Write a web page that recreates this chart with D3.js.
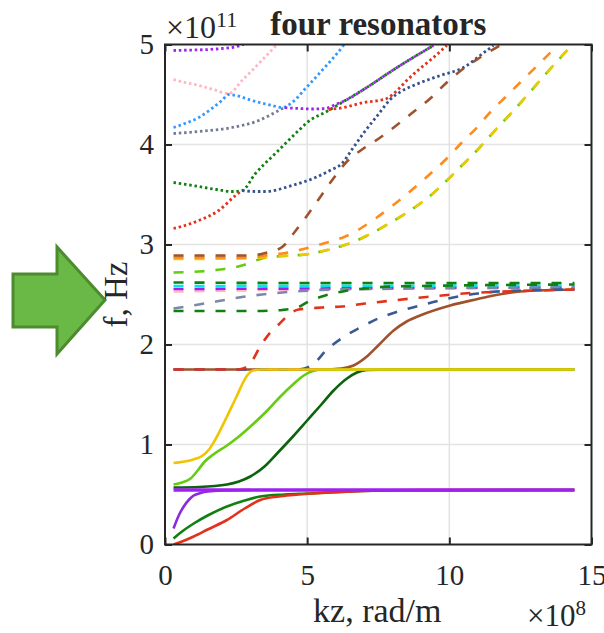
<!DOCTYPE html>
<html><head><meta charset="utf-8">
<script src="https://cdn.jsdelivr.net/npm/d3@7"></script>
<style>body{margin:0;background:#fff}svg{display:block}text{font-family:"Liberation Serif","Times New Roman",serif;fill:#262626}</style>
</head><body>
<svg id="c" width="604" height="633"></svg>
<script>
// ---------- data (x in 1e8 rad/m, y in 1e11 Hz) ----------
const xTicks = [0, 5, 10, 15];
const yTicks = [0, 1, 2, 3, 4, 5];
const titleText = "four resonators";
const xLabel = "kz, rad/m";
const yLabel = "f, Hz";

// solid curves
const purpleFlat = [[0.3,0.545],[14.4,0.545]];
const purpleRise = [[0.3,0.16],[0.5,0.3],[0.66,0.38],[0.85,0.45],[1.01,0.49],[1.25,0.515],[1.5,0.53],[2.0,0.54],[3.0,0.545]];
const redLow = [[0.3,0.0],[0.6,0.03],[1.01,0.08],[1.5,0.15],[2.18,0.245],[2.8,0.36],[3.35,0.445],[4.0,0.48],[4.52,0.495],[5.5,0.515],[7,0.535],[9,0.545],[14.4,0.545]];
const greenLow = [[0.3,0.06],[0.6,0.13],[1.01,0.21],[1.5,0.29],[2.18,0.38],[2.8,0.44],[3.35,0.48],[4.2,0.5],[5.0,0.51],[6.5,0.53],[8,0.54],[14.4,0.545]];
const greenSig = [[0.3,0.57],[1.2,0.575],[2.18,0.6],[2.6,0.63],[3.0,0.68],[3.5,0.78],[3.94,0.91],[4.5,1.08],[5.0,1.24],[5.5,1.40],[5.93,1.54],[6.4,1.66],[6.75,1.72],[7.1,1.745],[8,1.75],[14.4,1.75]];
const lightGreenSolid = [[0.3,0.6],[0.6,0.62],[0.9,0.66],[1.15,0.74],[1.4,0.83],[1.7,0.9],[2.18,0.99],[2.6,1.08],[3.12,1.21],[3.6,1.34],[4.06,1.48],[4.5,1.6],[4.88,1.69],[5.2,1.735],[5.6,1.75],[14.4,1.75]];
const yellowSolid = [[0.3,0.815],[0.7,0.83],[1.0,0.85],[1.3,0.885],[1.55,0.95],[1.71,1.02],[2.18,1.28],[2.5,1.47],[2.89,1.69],[3.1,1.74],[3.4,1.75],[14.4,1.75]];
const brownSolid = [[0.3,1.75],[5.5,1.75],[6.2,1.76],[6.63,1.79],[7.1,1.88],[7.5,1.99],[8.04,2.14],[8.5,2.23],[8.97,2.29],[10.03,2.39],[11.0,2.455],[11.55,2.49],[12.72,2.535],[14.4,2.55]];

// dashed curves
const redDash = [[0.3,1.75],[2.5,1.75],[2.75,1.76],[3.0,1.81],[3.35,1.98],[3.7,2.12],[4.0,2.2],[4.4,2.31],[4.7,2.35],[5.52,2.37],[6.22,2.38],[7.04,2.41],[8.0,2.44],[9.2,2.475],[10.5,2.51],[11.55,2.525],[14.4,2.55]];
const blueDash = [[0.3,1.75],[4.6,1.75],[4.9,1.76],[5.2,1.80],[5.7,1.95],[6.2,2.06],[6.87,2.17],[7.5,2.26],[8.2,2.33],[9.1,2.40],[9.8,2.45],[11.0,2.51],[12.0,2.535],[14.4,2.55]];
const greenDashTop = [[0.3,2.62],[5,2.615],[14.4,2.615]];
const cyanDash = [[0.3,2.585],[14.4,2.59]];
const purpleDash = [[0.3,2.555],[5,2.56],[14.4,2.575]];
const pinkDash = [[0.3,2.53],[5,2.55],[14.4,2.57]];
const slateDash = [[0.3,2.36],[1.19,2.40],[1.89,2.435],[2.71,2.475],[3.41,2.50],[4.12,2.52],[4.82,2.535],[6,2.55],[14.4,2.57]];
const greenDashLow = [[0.3,2.335],[3.3,2.335],[3.8,2.34],[4.12,2.345],[4.7,2.375],[5.05,2.43],[5.64,2.49],[6.34,2.535],[7.04,2.56],[8,2.58],[14.4,2.6]];
const lightGreenDash = [[0.3,2.72],[1.19,2.73],[1.95,2.75],[2.71,2.79],[3.1,2.83],[3.41,2.86],[4.12,2.885],[4.94,2.90],[5.64,2.94],[6.28,2.99],[6.9,3.06],[7.45,3.14],[8.0,3.23],[8.62,3.34],[9.3,3.48],[9.91,3.64],[10.44,3.79],[10.97,3.94],[11.67,4.16],[12.2,4.32],[12.7,4.48],[13.5,4.74],[14.3,4.99]];
const yellowDash = [[0.3,2.855],[2.8,2.86],[3.4,2.87],[4.12,2.885],[4.94,2.90],[5.64,2.94],[6.28,2.99],[6.9,3.06],[7.45,3.14],[8.0,3.23],[8.62,3.34],[9.3,3.48],[9.91,3.64],[10.44,3.79],[10.97,3.94],[11.67,4.16],[12.2,4.32],[12.7,4.48],[13.5,4.74],[14.3,4.99]];
const orangeDash = [[0.3,2.87],[2.8,2.87],[3.3,2.88],[3.7,2.9],[4.12,2.91],[4.94,2.96],[5.64,3.015],[6.34,3.08],[6.93,3.17],[7.45,3.27],[8.1,3.41],[8.74,3.56],[9.3,3.7],[9.91,3.86],[10.44,4.02],[10.97,4.17],[11.43,4.32],[11.96,4.47],[12.49,4.62],[13.1,4.79],[13.8,4.99]];
const brownDash = [[0.3,2.89],[2.8,2.89],[3.3,2.9],[3.6,2.92],[4.12,2.975],[4.6,3.14],[5.05,3.31],[5.45,3.47],[5.87,3.64],[6.4,3.83],[6.98,3.96],[7.57,4.07],[8.27,4.22],[8.8,4.34],[9.33,4.46],[9.91,4.62],[10.5,4.76],[11.08,4.87],[11.78,4.99]];

// dotted curves
const purpleDotTop = [[0.3,4.94],[1.0,4.945],[1.54,4.95],[2.0,4.96],[2.36,4.97],[2.77,5.0]];
const pinkDot = [[0.3,4.65],[0.7,4.62],[1.19,4.59],[1.7,4.55],[2.24,4.51],[2.71,4.64],[3.3,4.81],[3.94,5.0]];
const blueDot = [[0.3,4.17],[0.7,4.21],[1.19,4.27],[1.6,4.35],[2.0,4.44],[2.24,4.50],[2.5,4.49],[3.06,4.44],[3.77,4.39],[4.12,4.37],[4.47,4.42],[4.94,4.56],[5.52,4.74],[6.22,4.97],[6.3,5.0]];
const slateDot = [[0.3,4.11],[1.19,4.13],[2.36,4.17],[3.3,4.24],[4.0,4.34],[4.2,4.37]];
const purpleDotMid = [[4.12,4.37],[4.7,4.36],[5.2,4.355],[5.64,4.36],[6.0,4.4],[6.34,4.44],[7.04,4.56],[8.16,4.77],[9.44,4.99]];
const greenDot = [[0.3,3.62],[1.19,3.58],[1.8,3.55],[2.36,3.53],[2.71,3.54],[3.18,3.71],[3.88,3.91],[4.7,4.14],[5.0,4.22],[5.75,4.34],[6.34,4.44],[7.04,4.56],[8.16,4.77],[9.44,4.99]];
const redDotLow = [[0.3,3.16],[0.7,3.19],[1.19,3.24],[1.89,3.34],[2.48,3.49],[2.71,3.54]];
const navyDot = [[2.71,3.54],[3.2,3.53],[3.53,3.53],[4.47,3.59],[5.29,3.67],[5.8,3.74],[6.22,3.81],[6.6,3.96],[7.0,4.12],[7.5,4.3],[7.92,4.45],[8.3,4.53],[8.74,4.59],[9.68,4.69],[10.5,4.77],[11.08,4.89],[11.55,4.99]];
const redDotHigh = [[5.75,4.35],[6.3,4.37],[6.98,4.42],[7.5,4.44],[7.8,4.46],[8.16,4.54],[8.5,4.64],[8.97,4.76],[9.44,4.87],[9.91,4.99]];

// ---------- styles (drawing order) ----------
const DOT = "2.5,2.8", DASH = "10,11";
const series = [
  {d: slateDot, c: "#737b94", s: DOT},
  {d: pinkDot, c: "#ffb6c1", s: DOT},
  {d: blueDot, c: "#3399ff", s: DOT},
  {d: purpleDotTop, c: "#a020f0", s: DOT},
  {d: greenDot, c: "#108010", s: DOT},
  {d: purpleDotMid, c: "#a020f0", s: DOT, o: 2.6},
  {d: redDotLow, c: "#e3321b", s: DOT},
  {d: redDotHigh, c: "#e3321b", s: DOT},
  {d: navyDot, c: "#34538c", s: DOT},
  {d: pinkDash, c: "#ffb6c1", s: DASH},
  {d: purpleDash, c: "#a020f0", s: DASH},
  {d: cyanDash, c: "#00e5ee", s: DASH},
  {d: greenDashTop, c: "#108010", s: DASH},
  {d: slateDash, c: "#7b88a6", s: DASH},
  {d: greenDashLow, c: "#108010", s: DASH},
  {d: lightGreenDash, c: "#66cc11", s: DASH},
  {d: yellowDash, c: "#f0c800", s: DASH},
  {d: orangeDash, c: "#ff8c1a", s: DASH},
  {d: brownDash, c: "#a0522d", s: DASH},
  {d: brownSolid, c: "#a0522d"},
  {d: blueDash, c: "#3a5a94", s: DASH},
  {d: redDash, c: "#e3321b", s: DASH},
  {d: greenLow, c: "#108010"},
  {d: redLow, c: "#e3321b"},
  {d: purpleRise, c: "#8a2be2"},
  {d: greenSig, c: "#0b640b"},
  {d: lightGreenSolid, c: "#66cc11"},
  {d: yellowSolid, c: "#f0c400"},
  {d: purpleFlat, c: "#a020f0", w: 3.6}
];

// ---------- drawing ----------
const svg = d3.select("#c");
const L = 165, R = 591.5, T = 44.5, B = 544.5;
const x = d3.scaleLinear([0, 15], [L, R]);
const y = d3.scaleLinear([0, 5], [B, T]);

// arrow
svg.append("polygon")
  .attr("points", [[13,274],[57,274],[57,247],[105,300],[57,354],[57,327],[13,327]].map(p => p.join(",")).join(" "))
  .attr("fill", "#6ab845").attr("stroke", "#4d8b2f").attr("stroke-width", 3).attr("stroke-linejoin", "miter");

// grid
svg.append("g").selectAll("line").data(xTicks.filter(v => v > 0 && v < 15)).join("line")
  .attr("x1", d => x(d)).attr("x2", d => x(d)).attr("y1", T).attr("y2", B)
  .attr("stroke", "#e3e3e3").attr("stroke-width", 1.5);
svg.append("g").selectAll("line").data(yTicks.filter(v => v > 0 && v < 5)).join("line")
  .attr("y1", d => y(d)).attr("y2", d => y(d)).attr("x1", L).attr("x2", R)
  .attr("stroke", "#e3e3e3").attr("stroke-width", 1.5);

// curves
svg.append("clipPath").attr("id", "pc").append("rect")
  .attr("x", L).attr("y", T).attr("width", R - L).attr("height", B - T);
const line = d3.line().x(d => x(d[0])).y(d => y(d[1])).curve(d3.curveMonotoneX);
const g = svg.append("g").attr("clip-path", "url(#pc)");
series.forEach(s => {
  g.append("path").attr("d", line(s.d)).attr("fill", "none")
    .attr("stroke", s.c).attr("stroke-width", s.w || (s.s === DOT ? 2.8 : 2.6))
    .attr("stroke-dasharray", s.s || null)
    .attr("stroke-dashoffset", s.o || 0);
});

// axes with inward ticks
const fs = 29;
const ax = (gen, tr) => {
  const a = svg.append("g").attr("transform", tr).call(gen);
  a.select(".domain").remove();
  a.selectAll("line").attr("stroke", "#262626").attr("stroke-width", 2);
  a.selectAll("text").style("font-size", fs + "px").attr("fill", "#262626")
    .style("font-family", '"Liberation Serif", serif');
  return a;
};
ax(d3.axisBottom(x).tickValues(xTicks).tickSizeInner(-7).tickSizeOuter(0).tickPadding(20).tickFormat(d3.format("d")), `translate(0,${B})`);
ax(d3.axisTop(x).tickValues(xTicks).tickSizeInner(-7).tickSizeOuter(0).tickFormat(""), `translate(0,${T})`);
ax(d3.axisLeft(y).tickValues(yTicks).tickSizeInner(-7).tickSizeOuter(0).tickPadding(11).tickFormat(d3.format("d")), `translate(${L},0)`);
ax(d3.axisRight(y).tickValues(yTicks).tickSizeInner(-7).tickSizeOuter(0).tickFormat(""), `translate(${R},0)`);

// box
svg.append("rect").attr("x", L).attr("y", T).attr("width", R - L).attr("height", B - T)
  .attr("fill", "none").attr("stroke", "#262626").attr("stroke-width", 2);

// texts
svg.append("text").attr("x", (L + R) / 2).attr("y", 35).attr("text-anchor", "middle")
  .style("font-size", "33px").style("font-weight", "bold").attr("fill", "#000").text(titleText);
svg.append("text").attr("x", (L + R) / 2 - 1).attr("y", 622).attr("text-anchor", "middle")
  .style("font-size", "34px").text(xLabel);
svg.append("text").attr("transform", `translate(127,${(T + B) / 2}) rotate(-90)`).attr("text-anchor", "middle")
  .style("font-size", "33px").text(yLabel);

const expo = (tx, ty, e, f1, f2) => {
  const t = svg.append("text").attr("x", tx).attr("y", ty).style("font-size", f1 + "px");
  t.append("tspan").text("\u00d710");
  t.append("tspan").attr("dy", -11).style("font-size", f2 + "px").text(e);
};
expo(166, 38, "11", 32, 22);
expo(527, 626, "8", 31, 21);
</script>
</body></html>
